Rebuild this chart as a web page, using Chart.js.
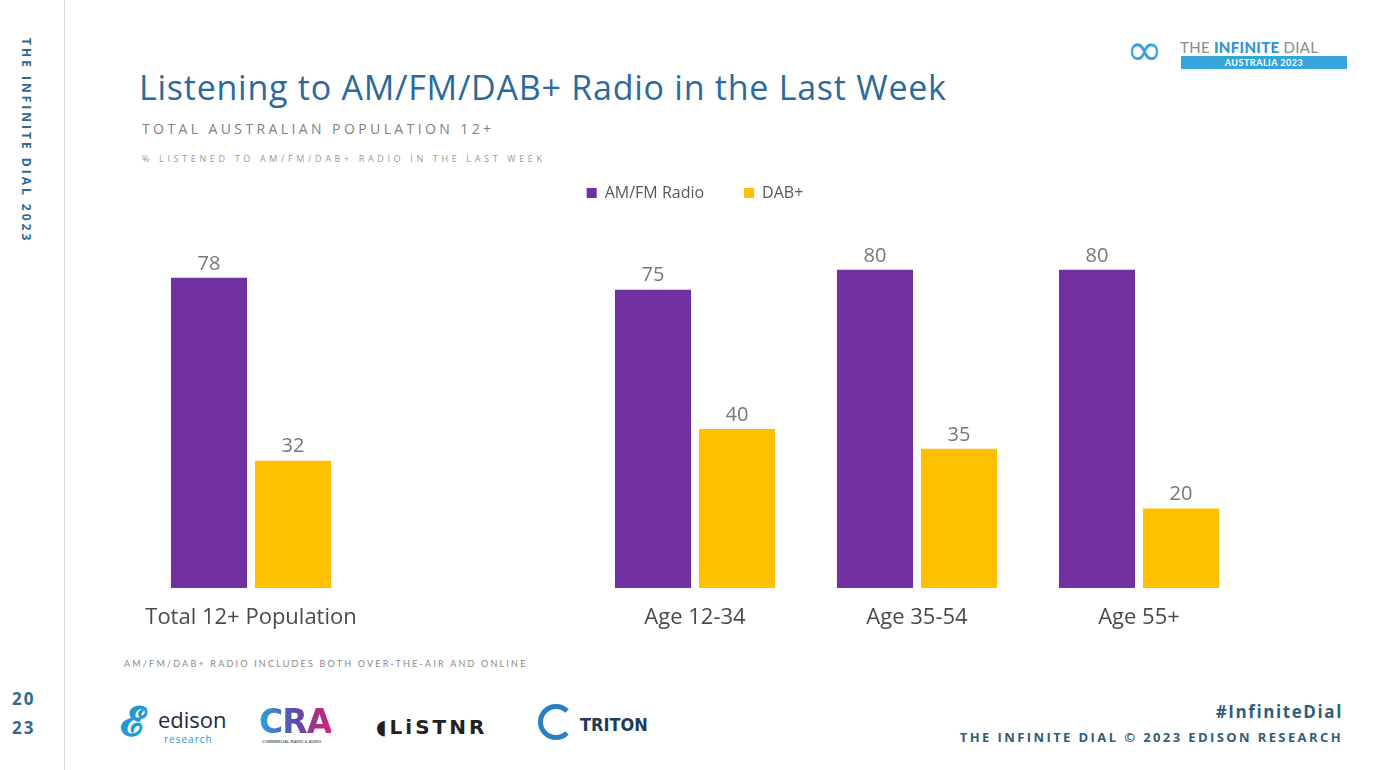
<!DOCTYPE html>
<html>
<head>
<meta charset="utf-8">
<script src="https://cdn.jsdelivr.net/npm/chart.js@4.4.0/dist/chart.umd.min.js"></script>
<style>
  body { margin: 0; background: #fff; font-family: "Open Sans", Lato, sans-serif; }
  #page { position: relative; width: 1384px; height: 770px; overflow: hidden; background: #fff; }
  .abs { position: absolute; white-space: nowrap; }
  #sideline { left: 64px; top: 0; width: 1px; height: 770px; background: #d6d6d6; }
  #side { left: 18px; top: 38px; writing-mode: vertical-rl; font: bold 12px "Open Sans", sans-serif; letter-spacing: 3px; color: #2f6a93; }
  #year { left: 12px; top: 684px; font: bold 17px "Open Sans", sans-serif; color: #2f6a93; letter-spacing: 2px; line-height: 29px; }
  #title { left: 139px; top: 64px; font: 34px "Open Sans", sans-serif; color: #2b6a9c; letter-spacing: 0.75px; }
  #sub1 { left: 142px; top: 119px; font: 14px "Open Sans", sans-serif; color: #808080; letter-spacing: 3.4px; }
  #sub2 { left: 142px; top: 152px; font: 9px "Open Sans", sans-serif; color: #999; letter-spacing: 3.65px; }
  #note { left: 124px; top: 658px; font: 9px Lato, sans-serif; color: #888; letter-spacing: 2.2px; }
  #hash { right: 41px; top: 700px; font: bold 17px "Open Sans", sans-serif; color: #2f5d7e; letter-spacing: 1.6px; }
  #copy { right: 41px; top: 728px; font: bold 13px "Open Sans", sans-serif; color: #2f5d7e; letter-spacing: 2.4px; }
  #logo { left: 1126px; top: 38px; }
  #logo .inf { position: absolute; left: 0; top: -14px; font: 44px "DejaVu Sans", sans-serif; color: #3aa3d8; }
  #logo .t1 { position: absolute; left: 54px; top: 0; font: 15px Lato, sans-serif; color: #8a8a8a; letter-spacing: 0.3px; }
  #logo .t1 b { color: #2f96cf; font-weight: 900; }
  #logo .bar { position: absolute; left: 55px; top: 18px; width: 166px; height: 13px; background: #35a5dc; color: #fff; font: bold 9px Lato, sans-serif; text-align: center; line-height: 13px; letter-spacing: 0.5px; }
  #canvasWrap { position: absolute; left: 0; top: 145px; width: 1384px; height: 495px; }
  .lg { position: absolute; }
</style>
</head>
<body>
<div id="page">
  <div id="sideline" class="abs"></div>
  <div id="side" class="abs">THE INFINITE DIAL 2023</div>
  <div id="year" class="abs">20<br>23</div>
  <div id="logo" class="abs">
    <span class="inf">∞</span>
    <span class="t1">THE <b>INFINITE</b> DIAL</span>
    <div class="bar">AUSTRALIA 2023</div>
  </div>
  <div id="title" class="abs">Listening to AM/FM/DAB+ Radio in the Last Week</div>
  <div id="sub1" class="abs">TOTAL AUSTRALIAN POPULATION 12+</div>
  <div id="sub2" class="abs">% LISTENED TO AM/FM/DAB+ RADIO IN THE LAST WEEK</div>
  <div id="canvasWrap"><canvas id="myChart" width="1384" height="495"></canvas></div>
  <div id="note" class="abs">AM/FM/DAB+ RADIO INCLUDES BOTH OVER-THE-AIR AND ONLINE</div>

  <div class="lg abs" style="left:120px;top:700px;font:bold 40px Lato,sans-serif;color:#1e9ad8;line-height:40px;">&#x1D4D4;</div>
  <div class="lg abs" style="left:158px;top:708px;font:22px 'Open Sans',sans-serif;color:#1f2a44;line-height:22px;">edison</div>
  <div class="lg abs" style="left:164px;top:732px;font:10px 'Open Sans',sans-serif;color:#1e9ad8;letter-spacing:1px;">research</div>
  <div class="lg abs" style="left:259px;top:704px;font:900 33px 'DejaVu Sans',sans-serif;color:#2e6fc0;letter-spacing:-1px;line-height:36px;background:linear-gradient(90deg,#2aa3e0,#5b4bb0 50%,#d3246e);-webkit-background-clip:text;-webkit-text-fill-color:transparent;">CRA</div>
  <div class="lg abs" style="left:262px;top:739px;font:bold 4px sans-serif;color:#666;">COMMERCIAL RADIO &amp; AUDIO</div>
  <div class="lg abs" style="left:376px;top:715px;font:bold 20px 'DejaVu Sans',sans-serif;color:#222;letter-spacing:3px;">◖LiSTNR</div>
  <div class="lg abs" style="left:538px;top:704px;width:26px;height:26px;border:5px solid #2a7fc0;border-radius:50%;border-right-color:transparent;"></div>
  <div class="lg abs" style="left:580px;top:714px;font:bold 18px 'Liberation Sans Narrow','DejaVu Sans Condensed',sans-serif;color:#1f3b5c;">TRITON</div>

  <div id="hash" class="abs">#InfiniteDial</div>
  <div id="copy" class="abs">THE INFINITE DIAL © 2023 EDISON RESEARCH</div>
</div>
<script>
// categories (empty slot keeps the gap after the total)
const categories = ['Total 12+ Population', '', 'Age 12-34', 'Age 35-54', 'Age 55+'];
const amfmValues = [78, null, 75, 80, 80];
const dabValues = [32, null, 40, 35, 20];

const valueLabels = {
    id: 'valueLabels',
    afterDatasetsDraw(chart) {
        const ctx = chart.ctx;
        ctx.save();
        ctx.font = '20px "Open Sans", sans-serif';
        ctx.fillStyle = '#777777';
        ctx.textAlign = 'center';
        ctx.textBaseline = 'bottom';
        chart.data.datasets.forEach((ds, i) => {
            chart.getDatasetMeta(i).data.forEach((bar, j) => {
                if (ds.data[j] == null) return;
                ctx.fillText(ds.data[j], bar.x, bar.y - 4);
            });
        });
        ctx.restore();
    }
};

new Chart(document.getElementById('myChart'), {
    type: 'bar',
    data: {
        labels: categories,
        datasets: [{
            label: 'AM/FM Radio',
            data: amfmValues,
            backgroundColor: '#7030A0'
        }, {
            label: 'DAB+',
            data: dabValues,
            backgroundColor: '#FFC000'
        }]
    },
    options: {
        responsive: false,
        maintainAspectRatio: false,
        animation: false,
        devicePixelRatio: 1,
        categoryPercentage: 0.757,
        barPercentage: 0.905,
        layout: {
            padding: { left: 140, right: 134, top: 0, bottom: 0 }
        },
        plugins: {
            legend: {
                position: 'top',
                labels: {
                    boxWidth: 10,
                    boxHeight: 10,
                    padding: 40,
                    color: '#595959',
                    font: { family: '"Open Sans", sans-serif', size: 16 }
                }
            },
            tooltip: { enabled: false }
        },
        scales: {
            x: {
                grid: { display: false },
                border: { display: false },
                ticks: {
                    color: '#4a4a4a',
                    padding: 9,
                    font: { family: '"Open Sans", sans-serif', size: 22 }
                },
                afterFit(scale) { scale.height = 52; }
            },
            y: {
                display: false,
                min: 0,
                max: 94.8
            }
        }
    },
    plugins: [valueLabels]
});
</script>
</body>
</html>
